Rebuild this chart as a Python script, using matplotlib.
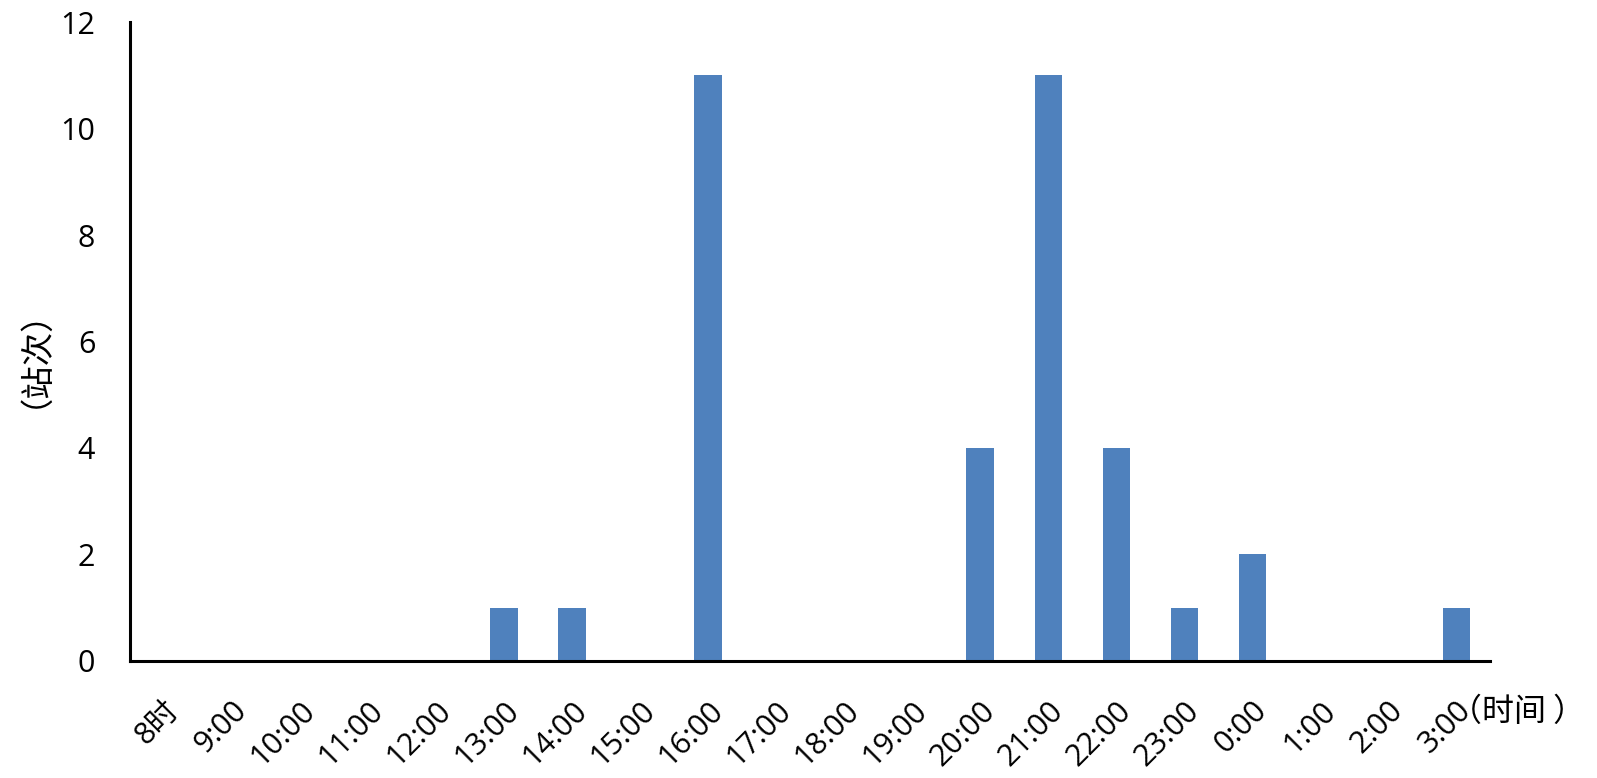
import matplotlib.pyplot as plt
import numpy as np

plt.rcParams['font.family'] = ['Open Sans', 'Noto Sans CJK SC', 'DejaVu Sans']

hours = ['8时', '9:00', '10:00', '11:00', '12:00', '13:00', '14:00', '15:00', '16:00', '17:00',
         '18:00', '19:00', '20:00', '21:00', '22:00', '23:00', '0:00', '1:00', '2:00', '3:00']
counts = [0, 0, 0, 0, 0, 1, 1, 0, 11, 0, 0, 0, 4, 11, 4, 1, 2, 0, 0, 1]

fig = plt.figure(figsize=(15.97, 7.78), dpi=100)
ax = fig.add_axes([0.0814, 0.1504, 0.8517, 0.8213])

x = np.arange(len(hours))
ax.bar(x, counts, width=0.4, color='#4F81BD')

ax.set_xlim(-0.5, len(hours) - 0.5)
ax.set_ylim(0, 12)
ax.set_yticks(range(0, 13, 2))
ax.tick_params(axis='y', length=0, labelsize=22, pad=25)
ax.tick_params(axis='x', length=0, labelsize=22, pad=25)
ax.set_xticks(x)
ax.set_xticklabels(hours, rotation=45, ha='right', rotation_mode='anchor')

for s in ['top', 'right']:
    ax.spines[s].set_visible(False)
for s in ['left', 'bottom']:
    ax.spines[s].set_linewidth(2.2)

ax.set_ylabel('（站次）', fontsize=24, family=['Noto Sans CJK SC'])
ax.yaxis.set_label_coords(-0.07, 0.5)
fig.text(0.908, 0.085, '（时间 ）', fontsize=23, family=['Noto Sans CJK SC'], ha='left', va='center')

plt.savefig('out.png')
